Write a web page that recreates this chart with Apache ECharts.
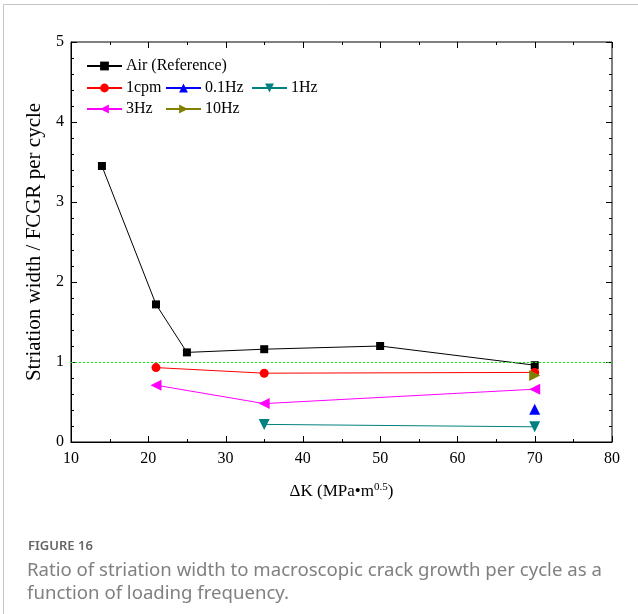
<!DOCTYPE html>
<html>
<head>
<meta charset="utf-8">
<script src="https://cdn.jsdelivr.net/npm/echarts@6/dist/echarts.min.js"></script>
<style>
  html, body { margin: 0; padding: 0; background: #fff; }
  #chart { width: 638px; height: 614px; }
</style>
</head>
<body>
<div id="chart"></div>
<script>
// data: [deltaK, ratio]
var airRef = [[14, 3.45], [21, 1.72], [25, 1.12], [35, 1.16], [50, 1.2], [70, 0.96]]
var cpm1 = [[21, 0.93], [35, 0.86], [70, 0.87]]
var hz01 = [[70, 0.41]]
var hz1 = [[35, 0.22], [70, 0.19]]
var hz3 = [[21, 0.71], [35, 0.48], [70, 0.66]]
var hz10 = [[70, 0.83]]
var refLevel = 1

var xTicks = { min: 10, max: 80, interval: 10 }
var yTicks = { min: 0, max: 5, interval: 1 }
var xMajor = [10, 20, 30, 40, 50, 60, 70, 80]
var xMinor = [15, 25, 35, 45, 55, 65, 75]
var yMajor = [0, 1, 2, 3, 4, 5]
var yMinor = [0.2, 0.4, 0.6, 0.8, 1.2, 1.4, 1.6, 1.8, 2.2, 2.4, 2.6, 2.8, 3.2, 3.4, 3.6, 3.8, 4.2, 4.4, 4.6, 4.8]

var serif = 'Liberation Serif'
var capFont = 'Noto Sans'

var chart = echarts.init(document.getElementById('chart'))

function lineSeries (name, data, color, symbol, size, rotate) {
  return {
    name: name,
    type: 'line',
    data: data,
    symbol: symbol,
    symbolSize: size,
    symbolRotate: rotate || 0,
    showAllSymbol: true,
    lineStyle: { color: color, width: 1 },
    itemStyle: { color: color },
    z: 3
  }
}

var series = [
  lineSeries('Air (Reference)', airRef, '#000000', 'rect', 8),
  lineSeries('1cpm', cpm1, '#ff0000', 'circle', 9),
  lineSeries('0.1Hz', hz01, '#0000ff', 'triangle', 11),
  lineSeries('1Hz', hz1, '#008080', 'triangle', 11, 180),
  lineSeries('3Hz', hz3, '#ff00ff', 'triangle', 11, 90),
  lineSeries('10Hz', hz10, '#808000', 'triangle', 11, -90)
]
series[0].markLine = {
  silent: true,
  symbol: 'none',
  label: { show: false },
  lineStyle: { color: '#00ee00', type: [2, 2], width: 1 },
  data: [{ yAxis: refLevel }]
}

// inside ticks on all four sides: [value, 0 = x / 1 = y, length]
var tickSpecs = []
xMajor.forEach(function (v) { tickSpecs.push([v, 0, 6]) })
xMinor.forEach(function (v) { tickSpecs.push([v, 0, 3]) })
yMajor.forEach(function (v) { tickSpecs.push([v, 1, 6]) })
yMinor.forEach(function (v) { tickSpecs.push([v, 1, 3]) })

function crisp (n) { return Math.round(n) + 0.5 }

function renderTick (params, api) {
  var v = api.value(0)
  var len = api.value(2)
  var st = { stroke: '#000', lineWidth: 1 }
  var a, b
  if (api.value(1) === 0) {
    a = api.coord([v, yTicks.min])
    b = api.coord([v, yTicks.max])
    return {
      type: 'group',
      children: [
        { type: 'line', shape: { x1: crisp(a[0]), y1: a[1], x2: crisp(a[0]), y2: a[1] - len }, style: st },
        { type: 'line', shape: { x1: crisp(b[0]), y1: b[1], x2: crisp(b[0]), y2: b[1] + len }, style: st }
      ]
    }
  }
  a = api.coord([xTicks.min, v])
  b = api.coord([xTicks.max, v])
  return {
    type: 'group',
    children: [
      { type: 'line', shape: { x1: a[0], y1: crisp(a[1]), x2: a[0] + len, y2: crisp(a[1]) }, style: st },
      { type: 'line', shape: { x1: b[0], y1: crisp(b[1]), x2: b[0] - len, y2: crisp(b[1]) }, style: st }
    ]
  }
}

series.push({
  name: 'ticks',
  type: 'custom',
  silent: true,
  clip: false,
  z: 2,
  renderItem: renderTick,
  data: tickSpecs
})

function legendItem (name, left, top) {
  return {
    data: [name],
    left: left,
    top: top,
    orient: 'horizontal',
    itemWidth: 35,
    itemHeight: 11,
    padding: 0,
    textStyle: { fontFamily: serif, fontSize: 16, color: '#000', padding: [0, 0, 0, -1] },
    selectedMode: false
  }
}

chart.setOption({
  animation: false,
  grid: { left: 71, right: 26, top: 42, bottom: 172, show: true, borderColor: '#000', borderWidth: 1, backgroundColor: 'transparent' },
  legend: [
    legendItem('Air (Reference)', 86, 58),
    legendItem('1cpm', 86, 80),
    legendItem('0.1Hz', 165, 80),
    legendItem('1Hz', 251, 80),
    legendItem('3Hz', 86, 101),
    legendItem('10Hz', 165, 101)
  ],
  xAxis: {
    type: 'value',
    min: xTicks.min,
    max: xTicks.max,
    interval: xTicks.interval,
    axisLine: { show: true, lineStyle: { color: '#000' } },
    axisTick: { show: false },
    splitLine: { show: false },
    axisLabel: { color: '#000', fontFamily: serif, fontSize: 16, margin: 9 },
    name: '{a|ΔK (MPa•m}{s|0.5}{a|)}',
    nameLocation: 'middle',
    nameGap: 40,
    nameTextStyle: {
      rich: {
        a: { fontFamily: serif, fontSize: 17, color: '#000' },
        s: { fontFamily: serif, fontSize: 11, color: '#000', padding: [0, 0, 9, 0] }
      }
    }
  },
  yAxis: {
    type: 'value',
    min: yTicks.min,
    max: yTicks.max,
    interval: yTicks.interval,
    axisLine: { show: true, lineStyle: { color: '#000' } },
    axisTick: { show: false },
    splitLine: { show: false },
    axisLabel: { color: '#000', fontFamily: serif, fontSize: 16, margin: 7 },
    name: 'Striation width / FCGR per cycle',
    nameLocation: 'middle',
    nameGap: 26,
    nameTextStyle: { fontFamily: serif, fontSize: 21, color: '#000' }
  },
  series: series,
  graphic: [
    { type: 'line', shape: { x1: 3.5, y1: 4.5, x2: 638, y2: 4.5 }, style: { stroke: '#c4c4c4', lineWidth: 1 }, silent: true },
    { type: 'line', shape: { x1: 3.5, y1: 4.5, x2: 3.5, y2: 614 }, style: { stroke: '#c4c4c4', lineWidth: 1 }, silent: true },
    { type: 'text', left: 28, top: 540, style: { text: 'FIGURE 16', fontFamily: capFont, fontSize: 13, fontWeight: 600, fill: '#666' }, silent: true },
    { type: 'text', left: 27, top: 561, style: { text: 'Ratio of striation width to macroscopic crack growth per cycle as a', fontFamily: capFont, fontSize: 18.6, fill: '#808080' }, silent: true },
    { type: 'text', left: 27, top: 584, style: { text: 'function of loading frequency.', fontFamily: capFont, fontSize: 18.6, fill: '#808080' }, silent: true }
  ]
})
</script>
</body>
</html>
